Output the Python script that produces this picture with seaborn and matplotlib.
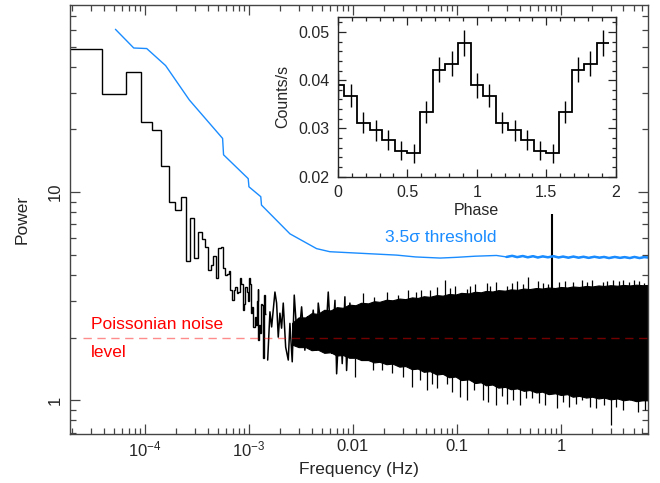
import numpy as np
import pandas as pd
import matplotlib
matplotlib.use("Agg")
import matplotlib.pyplot as plt
import seaborn as sns
from matplotlib.ticker import FixedLocator, LogLocator, NullFormatter

sns.set_style("ticks")
plt.rcParams['font.family'] = ['Liberation Sans', 'DejaVu Sans']
plt.rcParams['mathtext.fontset'] = 'custom'
plt.rcParams['mathtext.rm'] = 'Liberation Sans'
plt.rcParams['mathtext.default'] = 'regular'
plt.rcParams['xtick.direction'] = 'in'
plt.rcParams['ytick.direction'] = 'in'

# low frequency power spectrum bins (Hz, power)
low_freq = [2.6e-5, 5.2e-5, 7.8e-5, 1.04e-4, 1.3e-4, 1.56e-4, 1.82e-4, 2.08e-4, 2.34e-4, 2.6e-4,
            2.86e-4, 3.12e-4, 3.38e-4, 3.64e-4, 3.9e-4, 4.16e-4, 4.42e-4, 4.68e-4, 4.94e-4, 5.2e-4,
            5.46e-4, 5.72e-4, 5.98e-4, 6.24e-4, 6.5e-4, 6.76e-4, 7.02e-4, 7.28e-4, 7.54e-4, 7.8e-4,
            8.06e-4, 8.32e-4, 8.58e-4, 8.84e-4, 9.1e-4, 9.36e-4, 9.62e-4, 9.88e-4, 1.014e-3, 1.04e-3,
            1.066e-3, 1.092e-3, 1.118e-3, 1.144e-3, 1.17e-3, 1.196e-3, 1.222e-3, 1.248e-3, 1.274e-3, 1.3e-3,
            1.326e-3, 1.352e-3, 1.378e-3, 1.404e-3, 1.43e-3]
low_power = [48.5, 29.7, 37.9, 21.6, 19.9, 13.4, 8.98, 8.19, 9.5, 4.66,
             7.47, 4.80, 6.40, 5.92, 5.46, 4.22, 4.46, 4.92, 3.85, 5.36,
             5.46, 4.30, 3.99, 4.06, 4.2, 3.38, 3.02, 3.38, 3.5, 3.27,
             3.3, 3.85, 3.6, 2.71, 2.9, 3.51, 3.3, 3.0, 3.85, 3.6,
             2.62, 2.8, 2.25, 2.5, 2.3, 3.0, 3.44, 1.94, 2.3, 2.1,
             2.9, 2.86, 1.6, 3.2, 2.6]

# 1.5e-3 - 0.01 Hz, individual noise excursions
mid_freq = [1.514e-3, 1.592e-3, 1.653e-3, 1.778e-3, 1.845e-3, 1.914e-3, 1.986e-3, 2.06e-3, 2.138e-3, 2.255e-3,
            2.389e-3, 2.478e-3, 2.608e-3, 2.727e-3, 2.875e-3, 2.98e-3, 3.21e-3, 3.45e-3, 3.66e-3, 3.86e-3,
            4.15e-3, 4.48e-3, 4.64e-3, 5.0e-3, 5.38e-3, 5.79e-3, 6.24e-3, 6.72e-3, 6.97e-3, 7.5e-3,
            7.89e-3, 8.37e-3, 8.69e-3, 9.35e-3, 9.7e-3, 0.01045]
mid_power = [1.56, 2.66, 2.25, 3.31, 2.93, 2.01, 2.62, 2.22, 2.93, 1.80,
             1.56, 2.34, 1.53, 3.2, 2.17, 1.87, 2.81, 1.74, 2.52, 1.87,
             2.71, 1.74, 2.93, 2.17, 1.71, 3.31, 1.68, 3.02, 1.34, 2.71,
             1.50, 3.14, 1.39, 2.93, 1.68, 2.62]

# dense part of the spectrum: core envelope
core_freq = [2.6e-3, 3.0e-3, 3.5e-3, 4.0e-3, 4.6e-3, 5.3e-3, 6.1e-3, 7.0e-3, 8.0e-3, 9.2e-3,
             0.0106, 0.012, 0.014, 0.016, 0.018, 0.021, 0.024, 0.028, 0.032, 0.037,
             0.042, 0.048, 0.055, 0.064, 0.073, 0.084, 0.097, 0.11, 0.13, 0.15,
             0.17, 0.19, 0.22, 0.25, 0.29, 0.33, 0.38, 0.44, 0.5, 0.58,
             0.66, 0.76, 0.88, 1.0, 1.15, 1.3, 1.5, 1.75, 2.0, 2.3,
             2.6, 3.0, 3.5, 4.0, 4.6, 5.3, 6.1, 7.0]
core_hi = [2.35, 2.5, 2.5, 2.62, 2.6, 2.72, 2.7, 2.8, 2.78, 2.88,
           2.86, 2.94, 2.92, 2.99, 2.97, 3.04, 3.02, 3.08, 3.06, 3.12,
           3.1, 3.16, 3.14, 3.2, 3.18, 3.24, 3.22, 3.28, 3.26, 3.32,
           3.3, 3.35, 3.33, 3.38, 3.36, 3.41, 3.39, 3.44, 3.42, 3.46,
           3.44, 3.48, 3.46, 3.5, 3.48, 3.52, 3.5, 3.54, 3.52, 3.56,
           3.54, 3.57, 3.55, 3.58, 3.56, 3.59, 3.57, 3.58]
core_lo = [1.85, 1.8, 1.8, 1.74, 1.75, 1.69, 1.7, 1.64, 1.65, 1.6,
           1.6, 1.56, 1.56, 1.52, 1.53, 1.49, 1.5, 1.45, 1.46, 1.41,
           1.42, 1.37, 1.38, 1.33, 1.34, 1.29, 1.3, 1.25, 1.26, 1.21,
           1.22, 1.18, 1.19, 1.15, 1.16, 1.13, 1.14, 1.11, 1.12, 1.09,
           1.1, 1.07, 1.08, 1.06, 1.07, 1.04, 1.05, 1.03, 1.04, 1.02,
           1.03, 1.01, 1.02, 1.0, 1.01, 0.99, 1.0, 1.0]

# single bins sticking out of the dense band
up_freq = [0.0126, 0.016, 0.0211, 0.027, 0.0339, 0.04, 0.045, 0.055, 0.065, 0.0765,
           0.085, 0.095, 0.124, 0.135, 0.15, 0.193, 0.21, 0.24, 0.30, 0.34,
           0.38, 0.43, 0.485, 0.6, 0.67, 0.75, 0.95, 1.1, 1.3, 1.6,
           1.8, 2.0, 2.52, 2.8, 3.2, 3.6, 3.98, 4.5, 5.0, 5.7, 6.3]
up_power = [3.26, 3.15, 3.3, 3.2, 3.38, 3.3, 3.4, 3.38, 3.5, 3.77,
            3.45, 3.55, 3.44, 3.55, 3.6, 3.64, 3.55, 3.7, 3.55, 3.65,
            3.75, 3.6, 3.92, 3.75, 3.65, 3.6, 3.7, 3.75, 3.68, 3.77,
            3.7, 3.8, 3.7, 3.75, 3.8, 3.72, 3.77, 3.7, 3.8, 3.72, 3.65]
dn_freq = [0.0104, 0.0156, 0.019, 0.0235, 0.03, 0.0367, 0.044, 0.051, 0.058, 0.065,
           0.0795, 0.09, 0.108, 0.125, 0.146, 0.18, 0.2, 0.24, 0.27, 0.30,
           0.35, 0.4, 0.46, 0.53, 0.62, 0.7, 0.92, 1.05, 1.2, 1.4,
           1.6, 1.9, 2.2, 2.6, 3.0, 3.4, 4.0, 4.6, 5.5, 6.4]
dn_power = [1.29, 1.39, 1.4, 1.35, 1.3, 1.16, 1.25, 1.12, 1.2, 1.15,
            1.2, 1.1, 1.04, 1.0, 1.12, 1.0, 0.98, 0.946, 1.05, 0.964,
            1.0, 0.95, 1.02, 1.02, 0.97, 0.95, 0.915, 0.98, 0.93, 0.96,
            1.0, 0.93, 0.92, 0.95, 0.76, 0.93, 0.9, 1.0, 0.88, 0.895]

spike_freq = 0.826
spike_power = 7.84

# 3.5 sigma detection threshold
thr_freq = [5.2e-5, 7.8e-5, 1.04e-4, 1.58e-4, 2.67e-4, 5.58e-4, 5.7e-4, 9.84e-4, 1.0e-3, 1.3e-3,
            1.32e-3, 1.71e-3, 2.48e-3, 4.47e-3, 6.0e-3, 0.0263, 0.04, 0.069, 0.1, 0.15,
            0.24, 0.3, 0.34, 0.38, 0.43, 0.48, 0.54, 0.6, 0.67, 0.75,
            0.85, 0.95, 1.05, 1.18, 1.32, 1.48, 1.65, 1.85, 2.1, 2.35,
            2.6, 2.9, 3.3, 3.7, 4.1, 4.6, 5.1, 5.7, 6.3, 6.9]
thr_power = [60.5, 49.2, 48.9, 40.5, 27.7, 18.1, 15.1, 11.6, 10.6, 9.5,
             8.66, 7.6, 6.3, 5.35, 5.17, 4.98, 4.88, 4.82, 4.86, 4.92,
             4.96, 4.88, 4.94, 4.87, 4.93, 4.86, 4.92, 4.85, 4.91, 4.86,
             4.92, 4.85, 4.9, 4.84, 4.9, 4.84, 4.89, 4.83, 4.89, 4.84,
             4.88, 4.82, 4.88, 4.83, 4.87, 4.82, 4.88, 4.82, 4.87, 4.85]

noise_level = 2.0

# folded light curve (inset)
phase = [0.0, 0.091, 0.182, 0.273, 0.364, 0.455, 0.545, 0.636, 0.727, 0.818, 0.909,
         1.0, 1.091, 1.182, 1.273, 1.364, 1.455, 1.545, 1.636, 1.727, 1.818, 1.909]
rate = [0.0389, 0.0368, 0.0312, 0.0296, 0.02755, 0.0254, 0.02485, 0.0334, 0.0422, 0.0434, 0.0477,
        0.0389, 0.0368, 0.0312, 0.0296, 0.02755, 0.0254, 0.02485, 0.0334, 0.0422, 0.0434, 0.0477]
rate_err = [0.0025, 0.0024, 0.0022, 0.0021, 0.0021, 0.002, 0.002, 0.0023, 0.0025, 0.0026, 0.0027,
            0.0025, 0.0024, 0.0022, 0.0021, 0.0021, 0.002, 0.002, 0.0023, 0.0025, 0.0026, 0.0027]

fig = plt.figure(figsize=(6.6, 4.83), dpi=100)
ax = fig.add_axes([0.106, 0.101, 0.876, 0.889])

blue = '#1a8cff'
df_mid = pd.DataFrame({'f': mid_freq, 'p': mid_power})
df_thr = pd.DataFrame({'f': thr_freq, 'p': thr_power})

# bin edges halfway between the low frequency bins
lf = np.array(low_freq)
low_edges = np.r_[lf[0] / 2, (lf[:-1] + lf[1:]) / 2, lf[-1] + (lf[-1] - lf[-2]) / 2]
ax.stairs(low_power, low_edges, color='black', lw=1.0, baseline=None)
sns.lineplot(data=df_mid, x='f', y='p', ax=ax, color='black', lw=1.1,
             estimator=None, sort=False)
ax.fill_between(core_freq, core_lo, core_hi, color='black', lw=0.8)
ax.vlines(up_freq, 2.6, up_power, color='black', lw=0.9)
ax.vlines(dn_freq, dn_power, 1.6, color='black', lw=0.9)
ax.vlines(spike_freq, 2.0, spike_power, color='black', lw=1.5)

sns.lineplot(data=df_thr, x='f', y='p', ax=ax, color=blue, lw=1.0, estimator=None, sort=False)
tail = df_thr[df_thr['f'] >= 0.3]
sns.lineplot(data=tail, x='f', y='p', ax=ax, color=blue, lw=1.8, estimator=None, sort=False)
ax.axhline(noise_level, xmin=0.022, color='red', alpha=0.45, lw=1.0, dashes=(6, 4))

ax.set_xscale('log')
ax.set_yscale('log')
ax.set_xlim(1.9e-5, 6.9)
ax.set_ylim(0.687, 79.3)

ax.xaxis.set_major_locator(FixedLocator([1e-4, 1e-3, 1e-2, 1e-1, 1]))
ax.set_xticklabels(['$10^{-4}$', '$10^{-3}$', '0.01', '0.1', '1'])
ax.xaxis.set_minor_locator(LogLocator(base=10, subs=np.arange(2, 10), numticks=20))
ax.xaxis.set_minor_formatter(NullFormatter())
ax.yaxis.set_major_locator(FixedLocator([1, 10]))
ax.set_yticklabels(['1', '10'], rotation=90, va='center')
ax.yaxis.set_minor_locator(LogLocator(base=10, subs=np.arange(2, 10), numticks=20))
ax.yaxis.set_minor_formatter(NullFormatter())
ax.tick_params(which='both', top=True, right=True, labelsize=12, color='#444444', width=0.9)
ax.tick_params(axis='x', which='major', length=7, pad=3.5)
ax.tick_params(axis='y', which='major', length=7, pad=5)
ax.tick_params(which='minor', length=4)
for s in ax.spines.values():
    s.set_color('#444444')
    s.set_linewidth(1.0)

ax.set_xlabel('Frequency (Hz)', fontsize=12.5, labelpad=2)
ax.set_ylabel('Power', fontsize=12.5, labelpad=13)

ax.text(3.0e-5, 2.32, 'Poissonian noise', color='red', fontsize=12.5, va='center')
ax.text(3.0e-5, 1.70, 'level', color='red', fontsize=12.5, va='center')
ax.text(0.0203, 6.08, '3.5σ threshold', color=blue, fontsize=12.5, va='center')

# inset folded light curve
axi = fig.add_axes([0.512, 0.634, 0.421, 0.331])
edges = np.r_[np.array(phase) - 0.0455, phase[-1] + 0.0455]
axi.stairs(rate, edges, color='black', lw=1.3, baseline=None)
axi.errorbar(phase, rate, yerr=rate_err, fmt='none', ecolor='black', elinewidth=1.0)
axi.set_xlim(0, 2)
axi.set_ylim(0.02, 0.0531)
axi.xaxis.set_major_locator(FixedLocator([0, 0.5, 1, 1.5, 2]))
axi.xaxis.set_minor_locator(FixedLocator(np.arange(0, 2.01, 0.1)))
axi.yaxis.set_major_locator(FixedLocator([0.02, 0.03, 0.04, 0.05]))
axi.yaxis.set_minor_locator(FixedLocator(np.arange(0.02, 0.0532, 0.002)))
axi.set_xticklabels(['0', '0.5', '1', '1.5', '2'])
axi.set_yticklabels(['0.02', '0.03', '0.04', '0.05'])
axi.tick_params(which='both', top=True, right=True, labelsize=11.5, width=0.9)
axi.tick_params(which='major', length=6, pad=6)
axi.tick_params(which='minor', length=3)
for s in axi.spines.values():
    s.set_linewidth(1.0)
axi.set_xlabel('Phase', fontsize=11.5, labelpad=2)
axi.set_ylabel('Counts/s', fontsize=11.5, labelpad=6)

fig.savefig('out.png', dpi=100)
